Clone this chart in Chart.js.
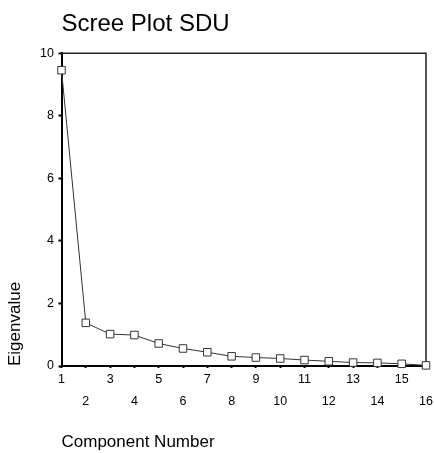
<!DOCTYPE html>
<html>
<head>
<meta charset="utf-8">
<script src="https://cdn.jsdelivr.net/npm/chart.js@4/dist/chart.umd.min.js"></script>
<style>
  html, body { margin: 0; padding: 0; background: #fff; }
  #wrap { width: 434px; height: 453px; position: relative; }
</style>
</head>
<body>
<div id="wrap"><canvas id="c"></canvas></div>
<script>
const chartTitle = "Scree Plot SDU";
const xAxisTitle = "Component Number";
const yAxisTitle = "Eigenvalue";
const components = ["1","2","3","4","5","6","7","8","9","10","11","12","13","14","15","16"];
const eigenvalues = [9.46, 1.38, 1.02, 0.99, 0.72, 0.56, 0.44, 0.31, 0.27, 0.24, 0.19, 0.15, 0.11, 0.10, 0.07, 0.02];
const yTicks = [0, 2, 4, 6, 8, 10];

const FONT = "'Liberation Sans', Arial, sans-serif";

const framePlugin = {
  id: 'frame',
  beforeDatasetsDraw(chart) {
    const a = chart.chartArea, ctx = chart.ctx;
    ctx.save();
    ctx.strokeStyle = '#222';
    ctx.lineWidth = 1.5;
    ctx.beginPath();
    ctx.moveTo(a.left, a.top);
    ctx.lineTo(a.right, a.top);
    ctx.lineTo(a.right, a.bottom);
    ctx.stroke();
    ctx.restore();
  }
};

new Chart(document.getElementById('c'), {
  type: 'line',
  data: {
    labels: components,
    datasets: [{
      data: eigenvalues,
      borderColor: '#333',
      borderWidth: 1,
      pointStyle: 'rect',
      pointRadius: 5.3,
      pointBorderWidth: 1,
      pointBorderColor: '#333',
      pointBackgroundColor: '#fff',
      tension: 0,
      clip: false
    }]
  },
  options: {
    responsive: true,
    maintainAspectRatio: false,
    animation: false,
    layout: { padding: { left: 0, right: 8, top: 0, bottom: 0 } },
    plugins: {
      legend: { display: false },
      tooltip: { enabled: false },
      title: {
        display: true,
        text: chartTitle,
        align: 'start',
        fullSize: false,
        color: '#000',
        font: { family: FONT, size: 24, weight: 'normal', lineHeight: 1.2 },
        padding: { top: 9.5, bottom: 15 }
      }
    },
    scales: {
      x: {
        type: 'category',
        offset: false,
        border: { display: true, color: '#000', width: 2 },
        grid: { display: true, drawOnChartArea: false, drawTicks: true, tickLength: 2, tickWidth: 2, tickColor: '#000' },
        ticks: {
          autoSkip: false,
          maxRotation: 0,
          minRotation: 0,
          padding: 1,
          color: '#000',
          font: { family: FONT, size: 12.5, lineHeight: 1.76 },
          callback: function(value, index) {
            const lab = this.getLabelForValue(value);
            return (index % 2 === 0) ? [lab] : ['', lab];
          }
        },
        title: {
          display: true,
          text: xAxisTitle,
          align: 'start',
          color: '#000',
          font: { family: FONT, size: 17, lineHeight: 1.2 },
          padding: { top: 18.6, bottom: 0 }
        }
      },
      y: {
        min: 0,
        max: 10,
        border: { display: true, color: '#000', width: 2 },
        grid: { display: true, drawOnChartArea: false, drawTicks: true, tickLength: 3, tickWidth: 2, tickColor: '#000' },
        afterBuildTicks: (scale) => { scale.ticks = yTicks.map(v => ({ value: v })); },
        ticks: {
          padding: 4.5,
          color: '#000',
          font: { family: FONT, size: 12.5, lineHeight: 1.2 }
        },
        title: {
          display: true,
          text: yAxisTitle,
          align: 'start',
          color: '#000',
          font: { family: FONT, size: 17, lineHeight: 1.2 },
          padding: { top: 5.6, bottom: 9.6 }
        }
      }
    }
  },
  plugins: [framePlugin]
});
</script>
</body>
</html>
